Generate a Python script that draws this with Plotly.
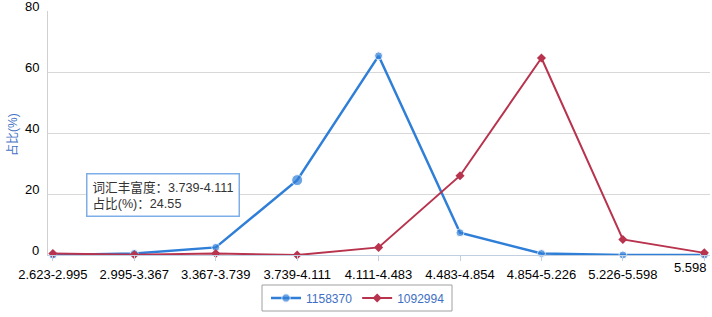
import plotly.graph_objects as go

categories = ["2.623-2.995", "2.995-3.367", "3.367-3.739", "3.739-4.111", "4.111-4.483",
              "4.483-4.854", "4.854-5.226", "5.226-5.598", "5.598"]
series_a_name = "1158370"
series_a = [0.0, 0.5, 2.5, 24.55, 65.3, 7.3, 0.5, 0.0, 0.0]
series_b_name = "1092994"
series_b = [0.5, 0.1, 0.5, 0.0, 2.5, 26.0, 64.6, 5.1, 0.7]
y_ticks = [0, 20, 40, 60, 80]
y_title = "占比(%)"
tooltip_text = "词汇丰富度：3.739-4.111<br>占比(%)：24.55"

BLUE = "#2f7ed8"
RED = "#b8334d"
FONT = "Liberation Sans, Arial, Noto Sans CJK SC, sans-serif"

W, H = 712, 317
L, R, T, B = 48, 2, 11, 62
pw, ph = W - L - R, H - T - B

def px(x):
    return (x - L) / pw

def py(y):
    return (H - B - y) / ph

xs = list(range(len(categories)))
sizes_a = [8] * len(xs)
sizes_a[3] = 11

fig = go.Figure()
fig.add_trace(go.Scatter(x=xs, y=series_a, name=series_a_name, mode="lines+markers",
                         line=dict(color=BLUE, width=2.5),
                         marker=dict(symbol="circle", size=sizes_a, color=BLUE),
                         cliponaxis=False))
fig.add_trace(go.Scatter(x=xs, y=series_b, name=series_b_name, mode="lines+markers",
                         line=dict(color=RED, width=2),
                         marker=dict(symbol="diamond", size=7, color=RED),
                         cliponaxis=False))

ticktext = list(categories)
ticktext[-1] = ""

annotations = [
    dict(text=tooltip_text, xref="paper", yref="paper", x=px(86), y=py(173),
         xanchor="left", yanchor="top", showarrow=False, align="left",
         font=dict(size=12.6, color="#333333", family=FONT),
         bgcolor="rgba(255,255,255,0.95)", bordercolor="#7eaee8", borderwidth=1.5,
         borderpad=5),
    dict(text=categories[-1], xref="paper", yref="paper", x=px(709), y=py(258),
         xanchor="right", yanchor="top", showarrow=False,
         font=dict(size=13, color="#000000", family=FONT)),
    dict(text=y_title, xref="paper", yref="paper", x=px(12), y=py(135),
         xanchor="center", yanchor="middle", textangle=-90, showarrow=False,
         font=dict(size=12, color="#4572c4", family=FONT)),
]
# y tick labels placed through the y axis scale, sitting just above each gridline
for v in y_ticks:
    annotations.append(dict(text=str(v), xref="paper", yref="y", x=0, y=v,
                            xanchor="right", yanchor="middle", xshift=-7, yshift=5,
                            showarrow=False, font=dict(size=13, color="#000000", family=FONT)))

fig.update_layout(
    width=W, height=H,
    margin=dict(l=L, r=R, t=T, b=B, autoexpand=False),
    paper_bgcolor="white", plot_bgcolor="white",
    font=dict(family=FONT, size=13, color="#000000"),
    showlegend=True,
    legend=dict(orientation="h", xref="container", yref="container",
                x=358 / W, xanchor="center", y=1 - 298 / H, yanchor="middle",
                font=dict(size=12, color="#3e6fc4"),
                bgcolor="rgba(0,0,0,0)"),
    xaxis=dict(range=[-0.06, 8.07], tickmode="array", tickvals=xs, ticktext=ticktext,
               automargin=False,
               showgrid=False, zeroline=False, showline=True, linecolor="#c0d0e0",
               linewidth=1, ticks="outside", ticklen=5, tickcolor="#c0d0e0",
               ticklabelstandoff=2,
               tickfont=dict(size=13, color="#000000"), fixedrange=True),
    yaxis=dict(range=[0, 80], tickmode="array", tickvals=y_ticks, automargin=False,
               showgrid=True, gridcolor="#d8d8d8", gridwidth=1, zeroline=False,
               showline=True, linecolor="#d0d0d0", linewidth=1,
               ticks="", showticklabels=False, fixedrange=True),
    shapes=[
        dict(type="rect", xref="paper", yref="paper",
             x0=px(262), x1=px(452), y0=py(311), y1=py(285),
             line=dict(color="#a0a0a0", width=1), fillcolor="rgba(0,0,0,0)", layer="below"),
    ],
    annotations=annotations,
)

fig.write_html("out.html", config={"displayModeBar": False},
               post_script="document.body.style.margin='0';")
